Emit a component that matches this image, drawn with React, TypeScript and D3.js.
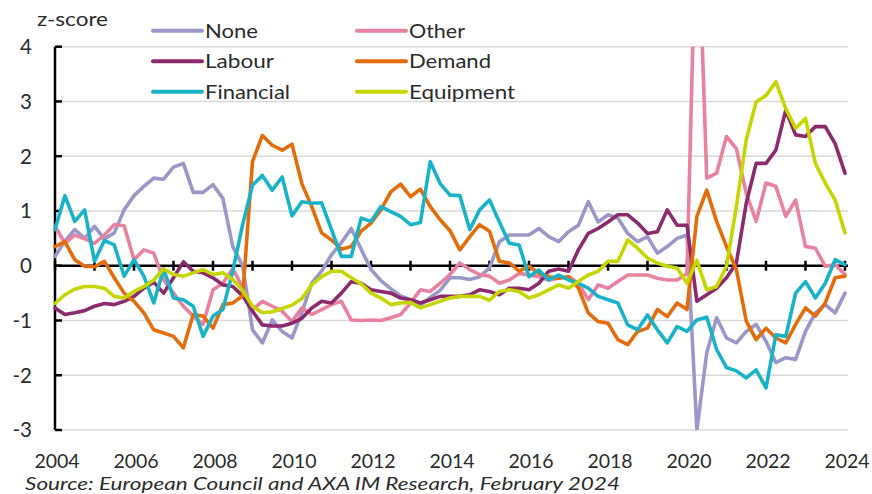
import * as d3 from 'd3';

// quarterly z-scores, 2004Q1 .. 2024Q1
const startYear = 2004;
const endYear = 2024;

const none = [
	0.17, 0.45, 0.66, 0.5, 0.72, 0.49, 0.6, 1.02, 1.28, 1.45,
	1.6, 1.58, 1.8, 1.87, 1.34, 1.34, 1.48, 1.23, 0.35, 0.0,
	-1.17, -1.41, -0.99, -1.2, -1.32, -0.85, -0.32, -0.1, 0.2, 0.42,
	0.68, 0.3, -0.07, -0.27, -0.42, -0.55, -0.62, -0.72, -0.58, -0.45,
	-0.22, -0.22, -0.25, -0.2, -0.04, 0.44, 0.56, 0.56, 0.56, 0.68,
	0.53, 0.44, 0.62, 0.74, 1.17, 0.8, 0.93, 0.87, 0.59, 0.44,
	0.53, 0.23, 0.35, 0.5, 0.56, -3.0, -1.59, -0.95, -1.32, -1.41,
	-1.2, -1.07, -1.38, -1.77, -1.68, -1.71, -1.2, -0.86, -0.71, -0.86,
	-0.5,
];

const other = [
	0.72, 0.41, 0.56, 0.49, 0.41, 0.56, 0.75, 0.73, 0.11, 0.29,
	0.23, -0.26, -0.5, -0.74, -0.92, -1.07, -0.44, -0.32, -0.05, -0.4,
	-0.8, -0.65, -0.74, -0.83, -1.02, -0.77, -0.89, -0.8, -0.71, -0.65,
	-0.99, -1.0, -0.99, -1.0, -0.95, -0.89, -0.68, -0.44, -0.47, -0.32,
	-0.16, 0.05, -0.07, -0.16, -0.19, -0.32, -0.26, -0.14, -0.17, -0.2,
	-0.26, -0.23, -0.2, -0.32, -0.62, -0.35, -0.41, -0.29, -0.17, -0.17,
	-0.17, -0.23, -0.26, -0.26, -0.14, 7.0, 1.6, 1.69, 2.36, 2.14,
	1.32, 0.81, 1.51, 1.45, 0.9, 1.2, 0.35, 0.32, -0.01, 0.02,
	-0.16,
];

const labour = [
	-0.77, -0.89, -0.86, -0.82, -0.74, -0.69, -0.71, -0.65, -0.56, -0.41,
	-0.3, -0.5, -0.22, 0.07, -0.1, -0.13, -0.22, -0.35, -0.38, -0.55,
	-0.83, -1.08, -1.1, -1.1, -1.05, -0.96, -0.77, -0.65, -0.68, -0.5,
	-0.29, -0.32, -0.44, -0.47, -0.5, -0.59, -0.62, -0.68, -0.62, -0.56,
	-0.56, -0.56, -0.53, -0.44, -0.47, -0.53, -0.41, -0.41, -0.44, -0.32,
	-0.1, -0.06, -0.1, 0.29, 0.59, 0.68, 0.8, 0.93, 0.93, 0.78,
	0.59, 0.62, 1.02, 0.74, 0.74, -0.65, -0.53, -0.41, -0.22, 0.05,
	1.14, 1.87, 1.87, 2.11, 2.84, 2.39, 2.36, 2.54, 2.54, 2.23,
	1.69,
];

const demand = [
	0.35, 0.44, 0.11, -0.01, -0.02, 0.08, -0.22, -0.5, -0.65, -0.86,
	-1.17, -1.23, -1.29, -1.5, -0.89, -0.92, -1.14, -0.71, -0.68, -0.55,
	1.9, 2.38, 2.2, 2.11, 2.22, 1.5, 1.08, 0.6, 0.47, 0.3,
	0.35, 0.63, 0.78, 1.02, 1.35, 1.49, 1.26, 1.4, 1.08, 0.84,
	0.64, 0.29, 0.53, 0.75, 0.63, 0.08, 0.05, -0.1, -0.01, -0.14,
	-0.2, -0.23, -0.2, -0.41, -0.86, -1.02, -1.05, -1.35, -1.44, -1.2,
	-1.14, -0.8, -0.93, -0.68, -0.8, 0.9, 1.38, 0.81, 0.35, -0.07,
	-1.01, -1.35, -1.14, -1.32, -1.41, -1.07, -0.77, -0.92, -0.68, -0.22,
	-0.19,
];

const financial = [
	0.66, 1.28, 0.81, 1.02, 0.08, 0.46, 0.38, -0.19, 0.11, -0.19,
	-0.68, -0.06, -0.59, -0.62, -0.74, -1.29, -0.92, -0.8, -0.1, 0.75,
	1.47, 1.65, 1.38, 1.62, 0.91, 1.17, 1.14, 1.15, 0.66, 0.17,
	0.17, 0.87, 0.81, 1.08, 0.99, 0.9, 0.75, 0.79, 1.9, 1.5,
	1.29, 1.28, 0.66, 1.02, 1.2, 0.8, 0.41, 0.38, -0.2, -0.08,
	-0.26, -0.17, -0.26, -0.32, -0.41, -0.56, -0.62, -0.68, -1.08, -1.17,
	-0.9, -1.17, -1.41, -1.11, -1.2, -0.99, -0.94, -1.53, -1.86, -1.92,
	-2.05, -1.9, -2.23, -1.26, -1.29, -0.5, -0.29, -0.59, -0.32, 0.11,
	0.02,
];

const equipment = [
	-0.69, -0.53, -0.43, -0.38, -0.38, -0.41, -0.56, -0.59, -0.47, -0.38,
	-0.26, -0.06, -0.16, -0.19, -0.13, -0.07, -0.16, -0.13, -0.25, -0.45,
	-0.74, -0.86, -0.84, -0.78, -0.72, -0.6, -0.35, -0.2, -0.1, -0.1,
	-0.22, -0.33, -0.5, -0.59, -0.71, -0.68, -0.67, -0.77, -0.71, -0.65,
	-0.59, -0.56, -0.56, -0.56, -0.63, -0.47, -0.44, -0.47, -0.59, -0.53,
	-0.44, -0.35, -0.41, -0.29, -0.17, -0.1, 0.08, 0.08, 0.47, 0.32,
	0.14, 0.05, -0.01, -0.04, -0.32, 0.1, -0.44, -0.38, -0.01, 1.08,
	2.3, 2.99, 3.11, 3.36, 2.87, 2.51, 2.69, 1.87, 1.51, 1.2,
	0.6,
];

const seriesNames = ['None', 'Other', 'Labour', 'Demand', 'Financial', 'Equipment'];
const seriesValues = [none, other, labour, demand, financial, equipment];
const seriesColors = ['#9b98c9', '#e8829f', '#8c2a6e', '#e46c0a', '#19b3c9', '#c5d600'];

const yearLabels = [2004, 2006, 2008, 2010, 2012, 2014, 2016, 2018, 2020, 2022, 2024];
const yTicks = [4, 3, 2, 1, 0, -1, -2, -3];

const font = 'Lato, "Noto Sans", sans-serif';
const textColor = '#2b2b2b';

export default function App() {

	const x = d3.scaleLinear().domain([startYear, endYear]).range([55, 845]);
	const y = d3.scaleLinear().domain([-3, 4]).range([430, 46.7]);

	const line = d3.line<number>()
		.x((_, i) => x(startYear + i / 4))
		.y(d => y(d))

	const yearTicks = d3.range(startYear, endYear + 1);

	return (
		<svg
			width={872}
			height={494}
			style={{ position: 'absolute', left: 0, top: 0, background: '#fff' }}
			fontFamily={font}
		>
			<defs>
				<clipPath id="plot-area">
					<rect x={50} y={y(4)} width={800} height={y(-3) - y(4)} />
				</clipPath>
			</defs>

			{/* gridlines */}
			{yTicks.filter(t => t !== 0).map(t =>
				<line key={t} x1={x(startYear)} x2={848} y1={y(t)} y2={y(t)} stroke='#d9d9d9' strokeWidth={1.5} />
			)}

			{/* y axis */}
			<line x1={x(startYear)} x2={x(startYear)} y1={y(4)} y2={y(-3)} stroke='#000' strokeWidth={2.5} />
			{yTicks.map(t =>
				<line key={t} x1={x(startYear)} x2={x(startYear) + 7} y1={y(t)} y2={y(t)} stroke='#000' strokeWidth={2.5} />
			)}
			{yTicks.map(t =>
				<text key={t} x={32} y={y(t)} dy='0.36em' textAnchor='end' fontSize={20.5} fill={textColor}>{t}</text>
			)}

			{/* zero line with yearly ticks */}
			<line x1={x(startYear)} x2={848} y1={y(0)} y2={y(0)} stroke='#000' strokeWidth={2.5} />
			{yearTicks.map(yr =>
				<line key={yr} x1={x(yr)} x2={x(yr)} y1={y(0) - 5} y2={y(0) + 5} stroke='#000' strokeWidth={2.5} />
			)}

			{/* series */}
			<g clipPath='url(#plot-area)'>
				{seriesValues.map((vals, k) =>
					<path key={seriesNames[k]} d={line(vals) ?? ''} fill='none' stroke={seriesColors[k]}
						strokeWidth={3.6} strokeLinejoin='round' strokeLinecap='round' />
				)}
			</g>

			{/* x labels */}
			{yearLabels.map(yr =>
				<text key={yr} x={x(yr) + 2} y={467.8} textAnchor='middle' fontSize={19.5} fill={textColor}>{yr}</text>
			)}

			<text x={37} y={26} fontSize={20} fill={textColor} textLength={71} lengthAdjust='spacingAndGlyphs'>z-score</text>

			{/* legend */}
			{seriesNames.map((name, k) => {
				const col = k % 2, row = Math.floor(k / 2);
				const lx = col === 0 ? 153 : 357;
				const ly = 30.7 + row * 30.5;
				const w = [53, 56, 69, 82, 85, 106][k];
				return (
					<g key={name}>
						<line x1={lx} x2={lx + 49} y1={ly} y2={ly} stroke={seriesColors[k]} strokeWidth={4} strokeLinecap='round' />
						<text x={lx + 52} y={ly} dy='0.36em' fontSize={20} fill={textColor}
							textLength={w} lengthAdjust='spacingAndGlyphs'>{name}</text>
					</g>
				);
			})}

			<text x={25} y={490} fontSize={18} fontStyle='italic' fill={textColor}
				textLength={595} lengthAdjust='spacingAndGlyphs'>
				Source: European Council and AXA IM Research, February 2024
			</text>
		</svg>
	);
}
